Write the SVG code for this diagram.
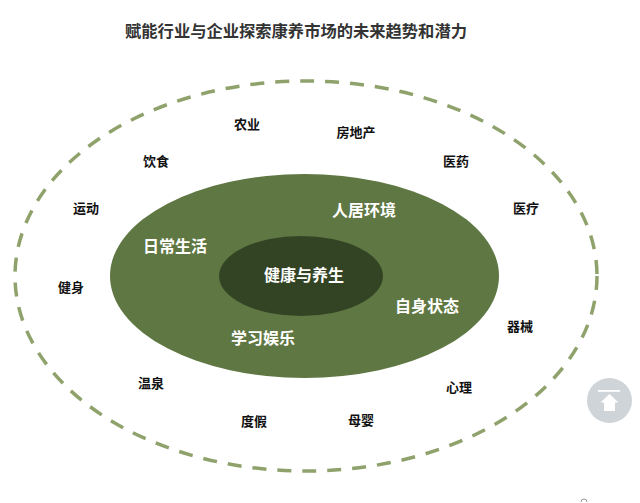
<svg xmlns="http://www.w3.org/2000/svg" width="640" height="503" viewBox="0 0 640 503">
<style>
text{font-family:"Noto Sans CJK SC","Liberation Sans",sans-serif;font-weight:700;text-anchor:middle}
.o{font-size:13px;fill:#111}
.m{font-size:16px;fill:#fff}
</style>
<rect width="640" height="503" fill="#fff"/>
<text x="296" y="37" font-size="16.3" fill="#333">赋能行业与企业探索康养市场的未来趋势和潜力</text>
<g id="connectors"></g>
<g id="outer"><ellipse cx="306" cy="276" rx="291" ry="195" fill="none" stroke="#8fa26c" stroke-width="3.5" stroke-dasharray="14 11"/></g>
<g id="middle"><ellipse cx="304.500" cy="276" rx="194.500" ry="102" fill="#5f7742"/></g>
<g id="core"><ellipse cx="301" cy="276" rx="82" ry="40" fill="#334425"/><text class="m" x="304" y="281">健康与养生</text></g>
<g id="n1"><text class="m" x="175" y="252">日常生活</text></g>
<g id="n2"><text class="m" x="364" y="216">人居环境</text></g>
<g id="n3"><text class="m" x="427" y="312">自身状态</text></g>
<g id="n4"><text class="m" x="263" y="344">学习娱乐</text></g>
<g id="a1"><text class="o" x="247" y="129">农业</text></g>
<g id="a2"><text class="o" x="356" y="137">房地产</text></g>
<g id="a3"><text class="o" x="456" y="166">医药</text></g>
<g id="a4"><text class="o" x="526" y="213">医疗</text></g>
<g id="a5"><text class="o" x="156" y="166">饮食</text></g>
<g id="a6"><text class="o" x="86" y="213">运动</text></g>
<g id="a7"><text class="o" x="71" y="292">健身</text></g>
<g id="a8"><text class="o" x="520" y="331">器械</text></g>
<g id="a9"><text class="o" x="151" y="388">温泉</text></g>
<g id="a10"><text class="o" x="459" y="392">心理</text></g>
<g id="a11"><text class="o" x="254" y="426">度假</text></g>
<g id="a12"><text class="o" x="361" y="425">母婴</text></g>
<g id="top-button">
<circle cx="609.500" cy="400.500" r="22.500" fill="#cfd4d8"/>
<rect x="598" y="390" width="22" height="1.800" fill="#fff"/>
<path d="M609.500 394 L618.500 402.500 L615 402.500 L615 411 L604 411 L604 402.500 L600.500 402.500 Z" fill="#fff"/>
</g>
<path d="M581 502 A3 3 0 0 1 587 502" fill="none" stroke="#999" stroke-width="1"/>
</svg>
